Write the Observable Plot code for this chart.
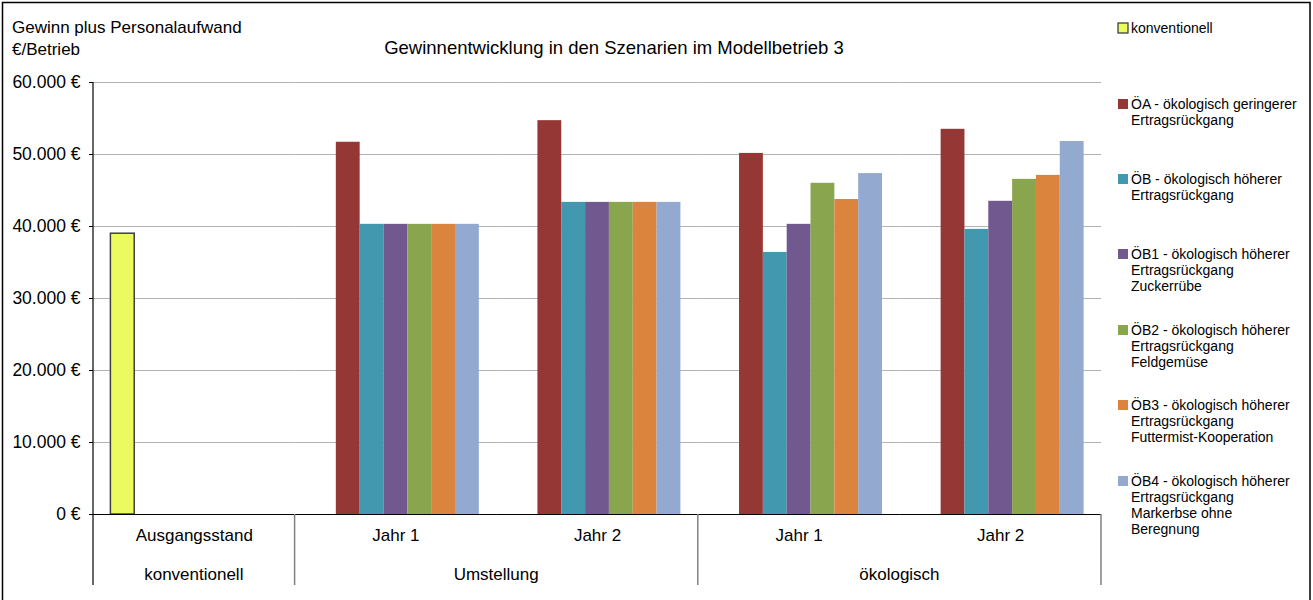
<!DOCTYPE html>
<html>
<head>
<meta charset="utf-8">
<script src="https://cdn.jsdelivr.net/npm/d3@7"></script>
<script src="https://cdn.jsdelivr.net/npm/@observablehq/plot@0.6"></script>
<style>
  html, body { margin: 0; padding: 0; background: #fff; }
  #chart { width: 1313px; height: 600px; }
</style>
</head>
<body>
<div id="chart"></div>
<script>
// ---- data ----
const groups = ["Ausgangsstand", "Umstellung Jahr 1", "Umstellung Jahr 2", "ökologisch Jahr 1", "ökologisch Jahr 2"];
const groupLabels = ["Ausgangsstand", "Jahr 1", "Jahr 2", "Jahr 1", "Jahr 2"];
const phases = ["konventionell", "Umstellung", "ökologisch"];
const phaseGroups = [[0, 0], [1, 2], [3, 4]];
const series = ["konventionell", "ÖA", "ÖB", "ÖB1", "ÖB2", "ÖB3", "ÖB4"];
const legendLabels = [
  ["konventionell"],
  ["ÖA - ökologisch geringerer", "Ertragsrückgang"],
  ["ÖB - ökologisch höherer", "Ertragsrückgang"],
  ["ÖB1 - ökologisch höherer", "Ertragsrückgang", "Zuckerrübe"],
  ["ÖB2 - ökologisch höherer", "Ertragsrückgang", "Feldgemüse"],
  ["ÖB3 - ökologisch höherer", "Ertragsrückgang", "Futtermist-Kooperation"],
  ["ÖB4 - ökologisch höherer", "Ertragsrückgang", "Markerbse ohne", "Beregnung"]
];
const colors = ["#EBFB5F", "#953735", "#4198AF", "#71588F", "#89A54E", "#DB843D", "#93A9CF"];
const vKonventionell = [39000, null, null, null, null];
const vOA  = [null, 51700, 54700, 50150, 53500];
const vOB  = [null, 40300, 43350, 36400, 39600];
const vOB1 = [null, 40300, 43350, 40300, 43500];
const vOB2 = [null, 40300, 43350, 46000, 46550];
const vOB3 = [null, 40300, 43350, 43750, 47100];
const vOB4 = [null, 40300, 43350, 47350, 51800];
const yTicks = [0, 10000, 20000, 30000, 40000, 50000, 60000];
const yTitle = ["Gewinn plus Personalaufwand", "€/Betrieb"];
const title = "Gewinnentwicklung in den Szenarien im Modellbetrieb 3";

// ---- table ----
const seriesValues = [vKonventionell, vOA, vOB, vOB1, vOB2, vOB3, vOB4];
const data = [];
series.forEach((s, si) => groups.forEach((g, gi) => {
  const v = seriesValues[si][gi];
  if (v != null) data.push({series: s, group: g, value: v});
}));

const deLocale = d3.formatLocale({decimal: ",", thousands: ".", grouping: [3], currency: ["", " €"]});
const fmt = d => deLocale.format(",")(d) + " €";

const FONT = "Arial, 'Liberation Sans', sans-serif";
const W = 1313, H = 600;
const mL = 93, mR = 212, mT = 82, mB = 86;

const chart = Plot.plot({
  width: W, height: H,
  marginLeft: mL, marginRight: mR, marginTop: mT, marginBottom: mB,
  style: {fontFamily: FONT, fontSize: "17.5px", color: "#000", background: "#fff", overflow: "visible"},
  fx: {domain: groups, paddingInner: 0, paddingOuter: 0, round: false, axis: null},
  x: {domain: series, paddingInner: 0, paddingOuter: 0.73, round: false, axis: null},
  y: {domain: [0, 60000], ticks: yTicks, tickFormat: fmt, tickSize: 4, tickPadding: 9, label: null},
  color: {domain: series, range: colors},
  marks: [
    Plot.ruleY(yTicks, {stroke: "#b3b3b3", strokeWidth: 1.2}),
    Plot.barY(data.filter(d => d.series !== "konventionell"), {fx: "group", x: "series", y: "value", fill: "series"}),
    Plot.barY(data.filter(d => d.series === "konventionell"), {fx: "group", x: "series", y: "value", fill: "series", stroke: "#404040", strokeWidth: 1.5}),
    Plot.ruleY([0], {stroke: "#000", strokeWidth: 1.2}),
    Plot.text(groups, {fx: d => d, text: (d, i) => groupLabels[i], frameAnchor: "bottom", dy: 26, fontSize: 17, fill: "#000"})
  ]
});

const svg = d3.select(chart);
const fxScale = chart.scale("fx");
const colorScale = chart.scale("color");
const bw = fxScale && fxScale.bandwidth ? fxScale.bandwidth : (W - mL - mR) / groups.length;
const fxLeft = g => (fxScale && fxScale.apply) ? fxScale.apply(g) : mL + groups.indexOf(g) * bw;
const bottomY = H - mB;

function addText(x, y, t, size, anchor) {
  return svg.append("text").attr("x", x).attr("y", y)
    .attr("text-anchor", anchor).attr("font-family", FONT).attr("font-size", size)
    .attr("fill", "#000").text(t);
}

// separators in the category area
const sepX = [fxLeft(groups[1]), fxLeft(groups[3]), fxLeft(groups[4]) + bw];
sepX.forEach(x => svg.append("line")
  .attr("x1", x).attr("x2", x).attr("y1", bottomY).attr("y2", 585)
  .attr("stroke", "#808080").attr("stroke-width", 1.5));
// y axis line
svg.append("line").attr("x1", mL).attr("x2", mL).attr("y1", mT).attr("y2", 585)
  .attr("stroke", "#000").attr("stroke-width", 1.2);

// phase labels
phases.forEach((p, i) => {
  const [a, b] = phaseGroups[i];
  const cx = (fxLeft(groups[a]) + fxLeft(groups[b]) + bw) / 2;
  addText(cx, 580, p, 17, "middle");
});

// y title
yTitle.forEach((t, i) => addText(12, 33 + i * 22, t, 17, "start"));

// title
addText(614, 54, title, 18.5, "middle");

// legend
const legendY = [28, 104, 179, 254, 330, 405, 481];
series.forEach((s, i) => {
  const cy = legendY[i];
  const col = colorScale && colorScale.apply ? colorScale.apply(s) : colors[i];
  svg.append("rect").attr("x", 1118).attr("y", cy - 5).attr("width", 10).attr("height", 10)
    .attr("fill", col).attr("stroke", s === "konventionell" ? "#404040" : "none").attr("stroke-width", 1.3);
  legendLabels[i].forEach((line, j) => addText(1131, cy + 5 + j * 16, line, 14, "start"));
});

// outer frame
svg.append("rect").attr("x", 2.5).attr("y", 2.5).attr("width", 1307.5).attr("height", 610)
  .attr("fill", "none").attr("stroke", "#000").attr("stroke-width", 1.5);

document.getElementById("chart").appendChild(chart);
</script>
</body>
</html>
